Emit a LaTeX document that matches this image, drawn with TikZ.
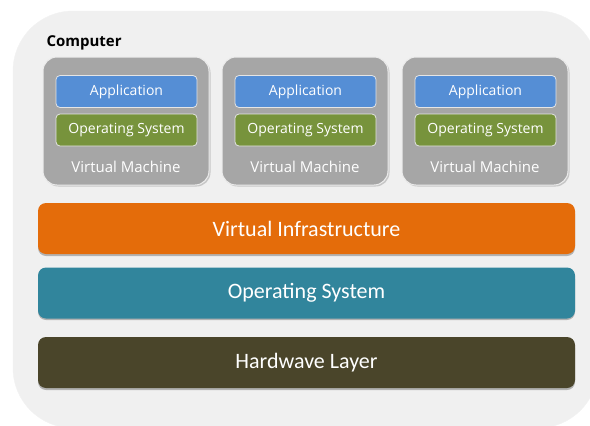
\documentclass[tikz,border=0pt]{standalone}
\usepackage{fontspec}
\setmainfont{Open Sans}
\newfontfamily\bigfont{Carlito}
\definecolor{bgc}{HTML}{F0F0F0}
\definecolor{vmc}{HTML}{A6A6A6}
\definecolor{appc}{HTML}{558ED5}
\definecolor{osc}{HTML}{77933C}
\definecolor{vic}{HTML}{E46C0A}
\definecolor{hosc}{HTML}{31859C}
\definecolor{hwc}{HTML}{4A452A}
\begin{document}
\begin{tikzpicture}[x=1pt,y=-1pt,
  vmbox/.style={draw=white!85!gray,line width=1pt,fill=vmc,rounded corners=14pt,minimum width=166pt,minimum height=128pt,inner sep=0pt},
  small/.style={draw=white!80!gray,line width=0.8pt,rounded corners=4pt,minimum width=141pt,minimum height=32pt,inner sep=0pt,text=white,font=\fontsize{14}{16}\selectfont},
  layer/.style={rounded corners=8pt,minimum width=537pt,minimum height=51pt,inner sep=0pt,text=white,font=\bigfont\fontsize{22}{24}\selectfont},
  shad/.style={fill=black!30,rounded corners=8pt}]
\useasboundingbox (0,0) rectangle (590,426);
\begin{scope}
\clip (0,0) rectangle (590,426);
\path[fill=bgc,draw=black!5,rounded corners=60pt] (13,11) rectangle (598,428);
\end{scope}
\node[anchor=base west,font=\bfseries\fontsize{15}{17}\selectfont] (comp) at (43,46) {Computer};
\foreach \i/\dx in {1/0,2/179,3/359}{
  \fill[black!22,rounded corners=14pt] (44.5+\dx,58.5) rectangle (210.5+\dx,186.5);
  \node[vmbox] (vm\i) at (126+\dx,121) {};
  \node[small,fill=appc] (app\i) at (126.5+\dx,91.5) {Application};
  \node[small,fill=osc] (os\i) at (126.5+\dx,130) {Operating System};
  \node[text=white,font=\fontsize{15}{17}\selectfont] (vml\i) at (126+\dx,167) {Virtual Machine};
}
\fill[shad] (38,206) rectangle (575,256);
\node[layer,fill=vic] (vi) at (306.5,228.5) {Virtual Infrastructure};
\fill[shad] (38,271) rectangle (575,320);
\node[layer,fill=hosc] (hos) at (306.5,293) {Operating System};
\fill[shad] (38,340) rectangle (575,390);
\node[layer,fill=hwc] (hw) at (306.5,362.5) {Hardwave Layer};
\end{tikzpicture}
\end{document}
